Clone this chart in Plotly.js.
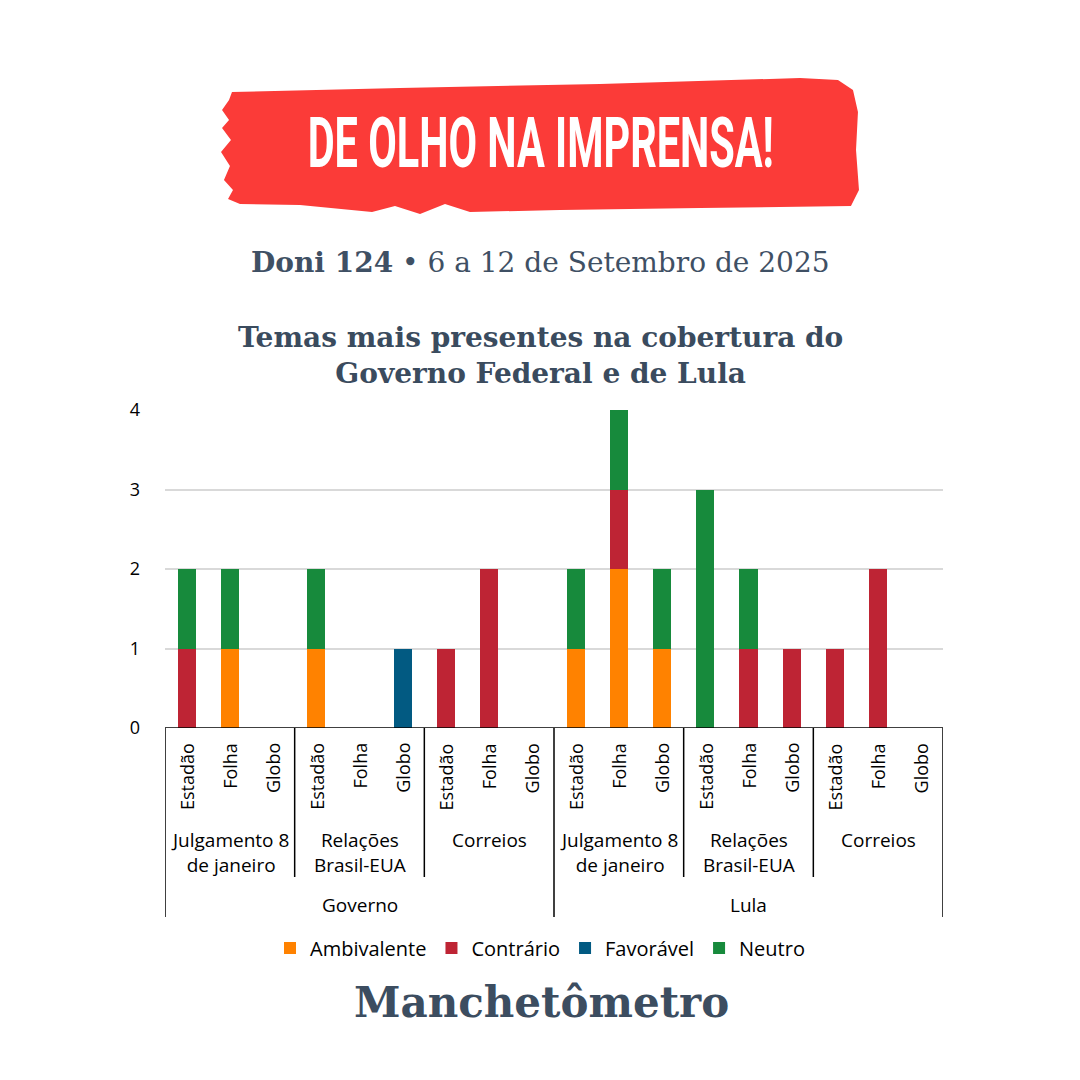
<!DOCTYPE html>
<html>
<head>
<meta charset="utf-8">
<script src="https://cdn.plot.ly/plotly-3.0.1.min.js"></script>
<style>html,body{margin:0;padding:0;background:#fff;}#chart{width:1080px;height:1080px;}</style>
</head>
<body>
<div id="chart"></div>
<script>
// ---- Data ----
const outlets = ['Estadão', 'Folha', 'Globo'];
const topics = ['Julgamento 8<br>de janeiro', 'Relações<br>Brasil-EUA', 'Correios'];
const subjects = ['Governo', 'Lula'];
const seriesNames = ['Ambivalente', 'Contrário', 'Favorável', 'Neutro'];
const ambivalente = [0,1,0, 1,0,0, 0,0,0, 1,2,1, 0,0,0, 0,0,0];
const contrario   = [1,0,0, 0,0,0, 1,2,0, 0,1,0, 0,1,1, 1,2,0];
const favoravel   = [0,0,0, 0,0,1, 0,0,0, 0,0,0, 0,0,0, 0,0,0];
const neutro      = [1,1,0, 1,0,0, 0,0,0, 1,1,1, 3,1,0, 0,0,0];
const yTicks = [0, 1, 2, 3, 4];

// ---- Styling ----
const colors = ['#FF8200', '#BE2434', '#025A82', '#178A3C'];
const W = 1080, H = 1080;
const L = 165, R = 943, T = 410, B = 728;
const px2x = p => (p - L) / (R - L);
const py2y = p => (B - p) / (B - T);
const slate = '#3A4B5E';
const sans = 'Open Sans, Noto Sans, sans-serif';
const serif = 'DejaVu Serif, serif';
const BANNER_TEXT = 'DE OLHO NA IMPRENSA!';

const nCat = outlets.length * topics.length * subjects.length;
const xs = Array.from({length: nCat}, (_, i) => i);
const vals = [ambivalente, contrario, favoravel, neutro];

const traces = vals.map((v, k) => ({
  type: 'bar', x: xs, y: v, name: seriesNames[k],
  marker: {color: colors[k], line: {width: 0}},
  width: 0.42, hoverinfo: 'skip'
}));

const annotations = [];
const shapes = [];

// banner
const bannerPts = [[232,92],[400,88],[600,84],[800,78],[838,80],[853,90],[858,112],[856,150],[859,190],[851,206],[700,208],[560,210],[470,212],[445,204],[420,214],[395,206],[372,212],[300,205],[240,204],[228,199],[233,190],[224,180],[230,166],[221,152],[231,140],[222,128],[229,120],[222,110],[229,100]];
shapes.push({type: 'path', xref: 'paper', yref: 'paper', layer: 'below',
  path: 'M ' + bannerPts.map(p => px2x(p[0]).toFixed(4) + ',' + py2y(p[1]).toFixed(4)).join(' L ') + ' Z',
  fillcolor: '#FB3B38', line: {width: 0}});
annotations.push({xref: 'paper', yref: 'paper', x: px2x(540), y: py2y(143), xanchor: 'center', yanchor: 'middle',
  text: '<b>' + BANNER_TEXT + '</b>', showarrow: false,
  font: {family: 'Roboto, Open Sans, sans-serif', size: 70, color: '#ffffff'}});

// subtitle
annotations.push({xref: 'paper', yref: 'paper', x: px2x(540), y: py2y(262), xanchor: 'center', yanchor: 'middle',
  text: '<b>Doni 124</b> • 6 a 12 de Setembro de 2025', showarrow: false,
  font: {family: serif, size: 28, color: '#3F5064'}});

// title
annotations.push({xref: 'paper', yref: 'paper', x: px2x(540), y: py2y(355), xanchor: 'center', yanchor: 'middle',
  text: '<b>Temas mais presentes na cobertura do<br>Governo Federal e de Lula</b>', showarrow: false,
  font: {family: serif, size: 28, color: slate}});

// footer
annotations.push({xref: 'paper', yref: 'paper', x: px2x(541), y: py2y(1002), xanchor: 'center', yanchor: 'middle',
  text: '<b>Manchetômetro</b>', showarrow: false,
  font: {family: serif, size: 42, color: '#3C4D60'}});

// outlet labels (rotated)
xs.forEach(i => {
  annotations.push({xref: 'x', yref: 'paper', x: i, y: py2y(741), xanchor: 'center', yanchor: 'top',
    text: outlets[i % outlets.length], textangle: -90, showarrow: false,
    font: {family: sans, size: 18, color: '#000'}});
});
// topic labels
subjects.forEach((s, si) => {
  topics.forEach((t, ti) => {
    const c = si * 9 + ti * 3 + 1;
    annotations.push({xref: 'x', yref: 'paper', x: c, y: py2y(825), xanchor: 'center', yanchor: 'top',
      text: t, showarrow: false, font: {family: sans, size: 19, color: '#000'}});
  });
  annotations.push({xref: 'x', yref: 'paper', x: si * 9 + 4, y: py2y(905), xanchor: 'center', yanchor: 'middle',
    text: s, showarrow: false, font: {family: sans, size: 19, color: '#000'}});
});

// separators
const sep = (x, bottomPx) => shapes.push({type: 'line', xref: 'x', yref: 'paper', x0: x, x1: x,
  y0: 0, y1: py2y(bottomPx), line: {color: '#000', width: 1.5}});
sep(-0.5, 917); sep(8.5, 917); sep(17.5, 917);
[2.5, 5.5, 11.5, 14.5].forEach(x => sep(x, 877));
shapes.push({type: 'line', xref: 'x', yref: 'y', x0: -0.5, x1: 17.5, y0: 0, y1: 0, line: {color: '#000', width: 1.5}});

const layout = {
  width: W, height: H,
  margin: {l: L, r: W - R, t: T, b: H - B, pad: 0},
  paper_bgcolor: '#fff', plot_bgcolor: '#fff',
  barmode: 'stack',
  showlegend: true,
  legend: {orientation: 'h', x: px2x(540), xanchor: 'center', y: py2y(948), yanchor: 'middle',
    font: {family: sans, size: 20, color: '#000'}, traceorder: 'normal', itemwidth: 30,
    bgcolor: 'rgba(0,0,0,0)'},
  xaxis: {range: [-0.5, 17.5], showticklabels: false, showgrid: false, zeroline: false, showline: false, ticks: '', fixedrange: true},
  yaxis: {range: [0, 4], tickvals: yTicks, ticktext: yTicks.map(String), showgrid: true, gridcolor: '#D9D9D9', gridwidth: 2,
    zeroline: false, showline: false, ticks: '', ticklabelstandoff: 24,
    tickfont: {family: sans, size: 18, color: '#000'}, fixedrange: true},
  annotations: annotations,
  shapes: shapes
};

Plotly.newPlot('chart', traces, layout, {staticPlot: true, displayModeBar: false}).then(gd => {
  // condense the banner headline horizontally to fit the brush stroke
  document.querySelectorAll('.annotation-text').forEach(t => {
    if (t.textContent === BANNER_TEXT) {
      const w = t.getBBox().width;
      const s = 466 / w;
      t.style.transformBox = 'fill-box';
      t.style.transformOrigin = 'center';
      t.style.transform = 'scaleX(' + s.toFixed(3) + ')';
    }
  });
});
</script>
</body>
</html>
